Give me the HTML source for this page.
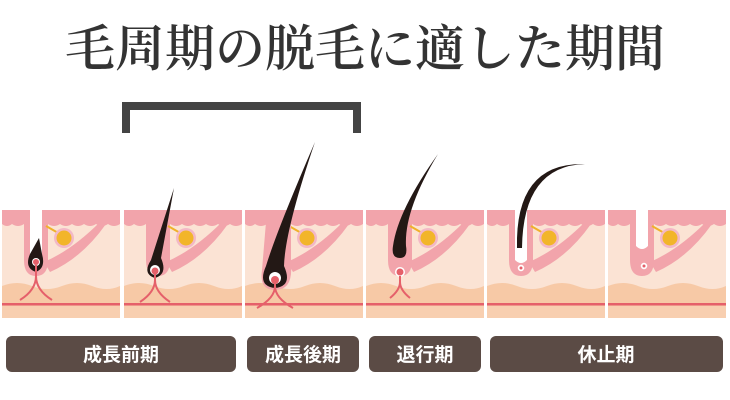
<!DOCTYPE html>
<html><head><meta charset="utf-8"><style>
html,body{margin:0;padding:0;background:#fff;width:730px;height:400px;overflow:hidden}
</style></head><body>
<svg width="730" height="400" viewBox="0 0 730 400" xmlns="http://www.w3.org/2000/svg">
<defs>
<g id="base">
  <rect x="0" y="0" width="118" height="108" fill="#fbe3d4"/>
  <path d="M0 0 H118 V14 Q112 18 106 14 Q100 18 94 14 Q88 18 82 14 Q76 18 70 14 Q64 18 58 14 Q52 18 46 14 L46 14 L22 14 Q16 18 10 14 Q5 18 0 14 Z" fill="#f2a4ab"/>
  <path d="M0 76 Q15 70 30 76 T60 76 T90 76 T118 76 V108 H0 Z" fill="#f7c9a6"/>
  <rect x="0" y="93" width="118" height="2.5" fill="#e5606a"/>
  <rect x="0" y="96" width="118" height="12" fill="#f8cfb0"/>
  <path d="M42 52 Q70 40 98 12 L104 14 Q80 48 48 62 Z" fill="#f2a4ab"/>
  <path d="M22 0 H46 V50 Q46 66 34 66 Q22 66 22 50 Z" fill="#f2a4ab"/>
  <line x1="44" y1="16" x2="58" y2="24" stroke="#f0b12a" stroke-width="2"/>
  <circle cx="62" cy="28" r="10" fill="#f3b8c6"/>
  <circle cx="62" cy="28" r="7.5" fill="#f2b52a"/>
</g>
</defs>
<text x="365" y="66" text-anchor="middle" font-family="'Noto Serif CJK SC', serif" font-weight="600" font-size="50" fill="#333">毛周期の脱毛に適した期間</text>
<path d="M126 133 V106 H357 V133" fill="none" stroke="#444" stroke-width="8"/>

<!-- panel 1 -->
<g transform="translate(2,210)">
  <use href="#base"/>
  <path d="M28 0 H40 V48 Q34 56 28 48 Z" fill="#fff"/>
  <path d="M34 62 Q22 58 28 44 L37 28 L40 44 Q44 58 34 62 Z" fill="#231815"/>
  <circle cx="34" cy="52" r="4" fill="#fff"/>
  <circle cx="34" cy="52" r="3" fill="#e5606a"/>
  <path d="M34 55 V66 Q34 80 18 90 M34 66 Q34 80 50 90" fill="none" stroke="#e5606a" stroke-width="2"/>
</g>
<!-- panel 2 -->
<g transform="translate(124,210)">
  <use href="#base"/>
  <path d="M31 68 Q18 64 27 50 L50 -22 L37 48 Q44 64 31 68 Z" fill="#231815"/>
  <circle cx="31" cy="60" r="5" fill="#fff"/>
  <circle cx="31" cy="61" r="3.5" fill="#e5606a"/>
  <path d="M31 64 V70 Q31 82 16 92 M31 70 Q31 82 46 92" fill="none" stroke="#e5606a" stroke-width="2"/>
</g>
<!-- panel 3 -->
<g transform="translate(245,210)">
  <use href="#base"/>
  <path d="M22 0 H46 V55 Q48 80 30 80 Q14 80 17 60 Z" fill="#f2a4ab"/>
  <path d="M30 78 Q12 76 21 56 Q32 20 70 -68 Q40 20 39 56 Q48 76 30 78 Z" fill="#231815"/>
  <circle cx="30" cy="68" r="6" fill="#fff"/>
  <circle cx="30" cy="70" r="4" fill="#e5606a"/>
  <path d="M30 72 V76 Q30 88 12 98 M30 76 Q30 88 48 98" fill="none" stroke="#e5606a" stroke-width="2"/>
</g>
<!-- panel 4 -->
<g transform="translate(366,210)">
  <use href="#base"/>
  <path d="M34 48 Q25 48 27 36 Q32 0 72 -56 Q38 0 40 36 Q42 48 34 48 Z" fill="#231815"/>
  <circle cx="34" cy="62" r="5" fill="#fff"/>
  <circle cx="34" cy="62" r="3.5" fill="#e5606a"/>
  <path d="M34 66 V72 Q34 80 24 88 M34 72 Q34 80 44 88" fill="none" stroke="#e5606a" stroke-width="2"/>
</g>
<!-- panel 5 -->
<g transform="translate(487,210)">
  <use href="#base"/>
  <path d="M28 0 H40 V50 Q34 56 28 50 Z" fill="#fff"/>
  <path d="M30 38 Q28 -48 98 -46 Q36 -44 35 38 Z" fill="#231815"/>
  <circle cx="34" cy="58" r="4" fill="#fff" stroke="#f2a4ab" stroke-width="1.5"/>
  <circle cx="34" cy="58" r="1.5" fill="#e5606a"/>
</g>
<!-- panel 6 -->
<g transform="translate(608,210)">
  <use href="#base"/>
  <path d="M28 0 H40 V36 Q34 42 28 36 Z" fill="#fff"/>
  <circle cx="36" cy="56" r="4" fill="#fff" stroke="#f2a4ab" stroke-width="1.5"/>
  <circle cx="36" cy="56" r="1.5" fill="#e5606a"/>
</g>

<g font-family="'Noto Sans CJK JP', sans-serif" font-weight="bold" font-size="19" fill="#fff" text-anchor="middle">
  <rect x="6" y="336" width="230" height="36" rx="6" fill="#5b4b45"/>
  <text x="121" y="361">成長前期</text>
  <rect x="247" y="336" width="112" height="36" rx="6" fill="#5b4b45"/>
  <text x="303" y="361">成長後期</text>
  <rect x="369" y="336" width="112" height="36" rx="6" fill="#5b4b45"/>
  <text x="425" y="361">退行期</text>
  <rect x="490" y="336" width="233" height="36" rx="6" fill="#5b4b45"/>
  <text x="606" y="361">休止期</text>
</g>
</svg>
</body></html>
